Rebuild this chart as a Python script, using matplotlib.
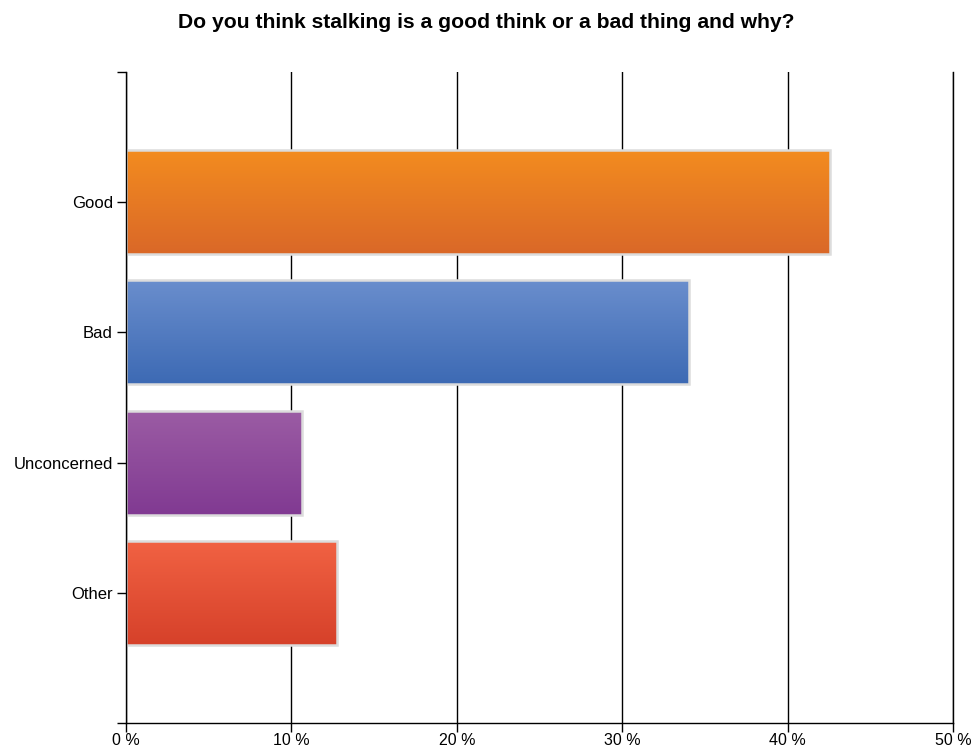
import matplotlib.pyplot as plt
import numpy as np
from matplotlib.colors import LinearSegmentedColormap

plt.rcParams['font.family'] = ['Liberation Sans', 'DejaVu Sans']

# survey answers (share of respondents, %)
categories = ['Good', 'Bad', 'Unconcerned', 'Other']
percentages = [42.55, 34.04, 10.64, 12.77]
# gradient colours per bar: (top, bottom)
bar_colors = [('#F38C1F', '#DA6828'),
              ('#6A8ECD', '#3D6AB4'),
              ('#9B5CA4', '#813A92'),
              ('#F16243', '#D6412A')]
x_ticks = [0, 10, 20, 30, 40, 50]
x_labels = [f'{t} %' for t in x_ticks]

fig = plt.figure(figsize=(9.72, 7.54), dpi=100)
ax = fig.add_axes([0.1296, 0.0411, 0.8509, 0.8634])

ypos = np.arange(len(categories))
bar_h = 0.8
for y, val, (c_top, c_bot) in zip(ypos, percentages, bar_colors):
    bar = ax.barh(y, val, height=bar_h, color='none', edgecolor='none', zorder=3)[0]
    cmap = LinearSegmentedColormap.from_list('g', [c_top, c_bot])
    grad = np.linspace(0, 1, 100).reshape(-1, 1)
    im = ax.imshow(grad, cmap=cmap, aspect='auto', zorder=3,
                   extent=(0, val, y + bar_h / 2, y - bar_h / 2))
    im.set_clip_path(bar)
    # light grey border round the bar
    ax.barh(y, val, height=bar_h, color='none', edgecolor='#DCDCDC', linewidth=1.8, zorder=4)

ax.set_xlim(0, 50)
ax.set_ylim(len(categories), -1)

ax.set_xticks(x_ticks)
ax.set_xticklabels(x_labels, fontsize=11.5)
ax.set_yticks(ypos)
ax.set_yticklabels(categories, fontsize=12)
ax.set_yticks([-1, len(categories)], minor=True)
ax.tick_params(axis='both', which='both', length=6.5, width=1, color='black', direction='out')
ax.tick_params(axis='y', pad=3)
ax.tick_params(axis='x', pad=1)

ax.grid(axis='x', color='black', linewidth=1, zorder=0)
ax.set_axisbelow(True)
ax.spines['top'].set_visible(False)
for s in ['left', 'bottom', 'right']:
    ax.spines[s].set_color('black')
    ax.spines[s].set_linewidth(1)
    ax.spines[s].set_zorder(5)

fig.suptitle('Do you think stalking is a good think or a bad thing and why?',
             fontsize=15.2, fontweight='bold', y=0.983)

fig.savefig('out.png', dpi=100)
